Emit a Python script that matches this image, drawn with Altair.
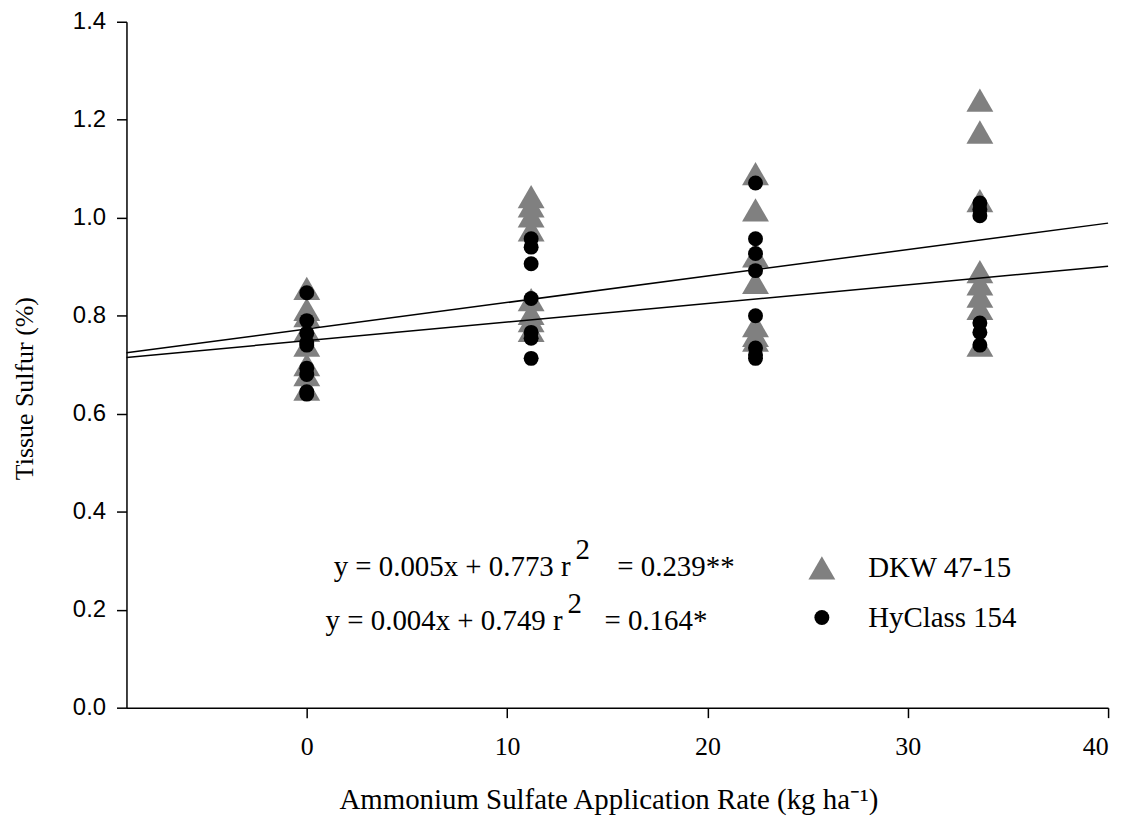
import altair as alt
import pandas as pd

# ---- data ----
cultivars = ["DKW 47-15", "HyClass 154"]
rates = [0, 11.2, 22.4, 33.6]
dkw_values = [
    [0.856, 0.813, 0.80, 0.77, 0.74, 0.70, 0.68, 0.65],
    [1.043, 1.024, 1.004, 0.975, 0.833, 0.805, 0.79, 0.77],
    [1.09, 1.016, 0.922, 0.868, 0.78, 0.76, 0.75],
    [1.24, 1.175, 1.035, 0.89, 0.865, 0.84, 0.815, 0.74],
]
hyclass_values = [
    [0.847, 0.79, 0.764, 0.745, 0.74, 0.693, 0.68, 0.645, 0.64],
    [0.957, 0.94, 0.906, 0.835, 0.766, 0.754, 0.713],
    [1.071, 0.957, 0.927, 0.892, 0.80, 0.734, 0.72, 0.713],
    [1.03, 1.017, 1.004, 0.785, 0.766, 0.74],
]
slopes = [0.0054, 0.0038]
intercepts = [0.773, 0.749]
line_x_range = [-9, 40]
x_ticks = [0, 10, 20, 30, 40]
y_ticks = [0.0, 0.2, 0.4, 0.6, 0.8, 1.0, 1.2, 1.4]

eq_main = ["y = 0.005x + 0.773 r", "y = 0.004x + 0.749 r"]
eq_sup = ["2", "2"]
eq_tail = ["=  0.239**", "= 0.164*"]

# ---- build tables ----
rows = []
for name, series in zip(cultivars, [dkw_values, hyclass_values]):
    for r, vals in zip(rates, series):
        for v in vals:
            rows.append({"rate": r, "sulfur": v, "cultivar": name})
pts = pd.DataFrame(rows)

lrows = []
for name, m, b in zip(cultivars, slopes, intercepts):
    for xv in line_x_range:
        lrows.append({"rate": xv, "sulfur": m * xv + b, "cultivar": name})
lines = pd.DataFrame(lrows)

# annotation placement (data coordinates)
ann_main = pd.DataFrame({"x": [13.17, 12.77], "y": [0.2865, 0.177], "t": eq_main})
ann_sup = pd.DataFrame({"x": [13.42, 13.02], "y": [0.322, 0.212], "t": eq_sup})
ann_tail = pd.DataFrame({"x": [15.5, 14.86], "y": [0.2865, 0.177], "t": eq_tail})

xscale = alt.Scale(domain=[-9, 40], nice=False, zero=False)
yscale = alt.Scale(domain=[0, 1.4], nice=False)

xaxis = alt.Axis(
    values=x_ticks, format="d", grid=False,
    title="Ammonium Sulfate Application Rate (kg ha\u207b\u00b9)",
    labelFont="Liberation Serif", labelFontSize=26, labelPadding=16,
    titleFont="Liberation Serif", titleFontSize=29, titleFontWeight="normal",
    titleX=484, titleY=78, titleBaseline="top",
)
yaxis = alt.Axis(
    values=y_ticks, format=".1f", grid=False,
    title="Tissue Sulfur (%)",
    labelFont="Liberation Sans", labelFontSize=24, labelPadding=11,
    titleFont="Liberation Serif", titleFontSize=26, titleFontWeight="normal",
    titleX=-102, titleY=368, titleBaseline="middle", titleAlign="center",
)

points = alt.Chart(pts).mark_point(filled=True, opacity=1, strokeWidth=0).encode(
    x=alt.X("rate:Q", scale=xscale, axis=xaxis),
    y=alt.Y("sulfur:Q", scale=yscale, axis=yaxis),
    color=alt.Color("cultivar:N", scale=alt.Scale(domain=cultivars, range=["#808080", "#000000"]),
                    legend=alt.Legend(title=None, orient="none", legendX=684, legendY=534,
                                      labelFont="Liberation Serif", labelFontSize=29,
                                      labelColor="black", rowPadding=20, labelOffset=32)),
    shape=alt.Shape("cultivar:N", scale=alt.Scale(domain=cultivars, range=["triangle-up", "circle"])),
    size=alt.Size("cultivar:N", scale=alt.Scale(domain=cultivars, range=[729, 225])),
)

reg = alt.Chart(lines).mark_line(color="black", strokeWidth=1.5).encode(
    x=alt.X("rate:Q", scale=xscale),
    y=alt.Y("sulfur:Q", scale=yscale),
    detail="cultivar:N",
)

txt_style = dict(font="Liberation Serif", fontSize=29, color="black", baseline="middle")
t_main = alt.Chart(ann_main).mark_text(align="right", **txt_style).encode(
    x=alt.X("x:Q", scale=xscale), y=alt.Y("y:Q", scale=yscale), text="t:N")
t_sup = alt.Chart(ann_sup).mark_text(align="left", **txt_style).encode(
    x=alt.X("x:Q", scale=xscale), y=alt.Y("y:Q", scale=yscale), text="t:N")
t_tail = alt.Chart(ann_tail).mark_text(align="left", **txt_style).encode(
    x=alt.X("x:Q", scale=xscale), y=alt.Y("y:Q", scale=yscale), text="t:N")

chart = alt.layer(points, reg, t_main, t_sup, t_tail).properties(
    width=986, height=689,
    autosize=alt.AutoSizeParams(type="none"),
    padding={"left": 119, "top": 12, "right": 20, "bottom": 110},
    background="white",
).configure_view(stroke=None).configure_axis(
    domainColor="black", domainWidth=1.5, tickColor="black", tickWidth=1.5, tickSize=10,
    labelColor="black", titleColor="black",
)

chart.save("out.html", embed_options={"renderer": "svg", "actions": False})
